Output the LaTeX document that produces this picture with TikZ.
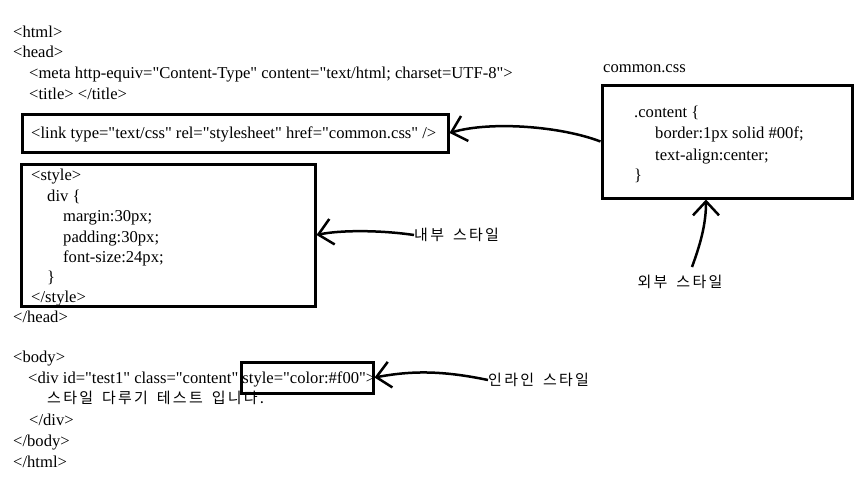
\documentclass[tikz,border=0pt]{standalone}
\usepackage{fontspec}
\setmainfont{Liberation Serif}[Ligatures=TeXOff]
\newfontfamily\kofont{Noto Sans CJK KR}[LetterSpace=15,WordSpace=1.6]
\usetikzlibrary{arrows.meta}
\begin{document}
\begin{tikzpicture}[x=1pt,y=-1pt,
  code/.style={anchor=base west,inner sep=0pt,font=\fontsize{16.6}{19}\selectfont},
  kor/.style={anchor=base west,inner sep=0pt,font=\kofont\fontsize{15}{17}\selectfont},
  box/.style={draw,line width=3pt,inner sep=0pt},
  arr/.style={line width=2.5pt,-{Straight Barb[length=14pt,width=26pt,line width=2.5pt]}}]
\useasboundingbox[fill=white] (0,0) rectangle (864,482);
% boxes
\node[box,minimum width=426pt,minimum height=38pt] (link) at (235,133) {};
\node[box,minimum width=294pt,minimum height=142pt] (style) at (168,235) {};
\node[box,minimum width=132pt,minimum height=31pt] (inline) at (307,377.5) {};
\node[box,minimum width=250pt,minimum height=113pt] (css) at (727,141.5) {};
% left code
\node[code] (l1) at (13,37) {<html>};
\node[code] (l2) at (13,57) {<head>};
\node[code] (l3) at (29,78) {<meta http-equiv="Content-Type" content="text/html; charset=UTF-8">};
\node[code] (l4) at (29,99) {<title> </title>};
\node[code] (l5) at (31,138) {<link type="text/css" rel="stylesheet" href="common.css" />};
\node[code] (l6) at (31,180) {<style>};
\node[code] (l7) at (47,201) {div \{};
\node[code] (l8) at (63,221) {margin:30px;};
\node[code] (l9) at (63,242) {padding:30px;};
\node[code] (l10) at (63,262) {font-size:24px;};
\node[code] (l11) at (47,282) {\}};
\node[code] (l12) at (31,302) {</style>};
\node[code] (l13) at (13,322) {</head>};
\node[code] (l14) at (13,362) {<body>};
\node[code] (l15) at (28,383) {<div id="test1" class="content" style="color:\#f00">};
\node[kor] (l16) at (47,403) {스타일 다루기 테스트 입니다.};
\node[code] (l17) at (29,425) {</div>};
\node[code] (l18) at (13,446) {</body>};
\node[code] (l19) at (13,467) {</html>};
% css box text
\node[code] (c0) at (603,72) {common.css};
\node[code] (c1) at (634,117) {.content \{};
\node[code] (c2) at (655,138) {border:1px solid \#00f;};
\node[code] (c3) at (655,160) {text-align:center;};
\node[code] (c4) at (634,180) {\}};
% labels
\node[kor,anchor=west] (lin) at (414,235) {내부 스타일};
\node[kor,anchor=north] (lex) at (680,275) {외부 스타일};
\node[kor,anchor=west] (lil) at (488,380) {인라인 스타일};
% arrows
\draw[arr] (css.west) .. controls (560,126) and (490,121) .. (link.east);
\draw[arr] (lin.west) .. controls (380,230) and (340,230) .. (style.east);
\draw[arr] (lil.west) .. controls (440,370) and (410,371) .. (inline.east);
\coordinate (exttip) at ([xshift=-21pt]css.south);
\coordinate (exts) at (692,267);
\draw[arr] (exts) .. controls (700,245) and (706,225) .. (exttip);
\end{tikzpicture}
\end{document}
